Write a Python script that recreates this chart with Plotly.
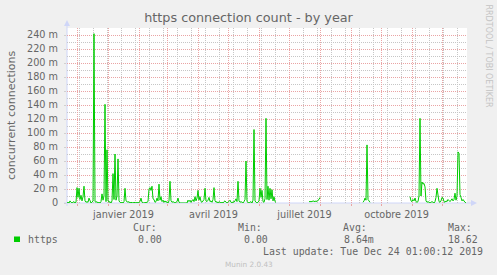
import pandas as pd
import plotly.graph_objects as go

# ---------------- data (daily averages, in milli-connections) ----------------
range_start = "2018-11-20 12:00"
range_end = "2019-12-25 12:00"

seg_a_start = "2018-11-20 12:00"
seg_a_vals = [
    0, 1, 0, 3, 1, 0, 1, 2, 0, 1,
    22, 8, 21, 5, 11, 3, 9, 24, 3, 1,
    2, 1, 7, 2, 0, 1, 3, 242, 2, 1,
    2, 0, 1, 0, 2, 13, 4, 10, 141, 2,
    76, 4, 1, 2, 0, 3, 42, 5, 70, 4,
    10, 63, 3, 1, 0, 1, 0, 2, 21, 3,
    2, 1, 2, 0, 1, 0, 0, 1, 0, 0,
    1, 0, 1, 2, 7, 1, 0, 0, 0, 0,
    1, 2, 20, 22, 18, 24, 6, 5, 1, 2,
    7, 3, 27, 4, 9, 2, 4, 1, 3, 1,
    2, 0, 3, 31, 3, 1, 2, 1, 0, 1,
    2, 7, 1, 0, 0, 0, 0, 0, 0, 1,
    0, 4, 2, 4, 1, 3, 5, 2, 9, 3,
    7, 18, 4, 9, 2, 1, 3, 5, 21, 3,
    2, 4, 8, 2, 3, 1, 5, 22, 3, 1,
    2, 0, 2, 1, 0, 1, 0, 2, 3, 1,
    0, 1, 2, 4, 1, 0, 2, 1, 3, 6,
    2, 31, 3, 1, 2, 1, 0, 2, 5, 60,
    2, 1, 0, 1, 2, 0, 4, 105, 3, 1,
    0, 1, 3, 21, 8, 18, 2, 1, 6, 121,
    5, 24, 4, 21, 6, 19, 3, 9, 2, 1,
]
seg_b_start = "2019-07-20 12:00"
seg_b_vals = [2, 2, 1, 2, 3, 2, 2, 3, 2, 4, 5, 8]
seg_c_start = "2019-09-12 12:00"
seg_c_vals = [1, 3, 7, 4, 83, 5, 3, 1]
seg_d_start = "2019-10-29 12:00"
seg_d_vals = [
    9, 3, 2, 5, 3, 7, 2, 1, 2, 10,
    121, 10, 30, 27, 28, 23, 3, 1, 2, 1,
    0, 1, 2, 1, 0, 2, 8, 21, 6, 2,
    1, 3, 8, 7, 2, 1, 3, 2, 5, 3,
    2, 4, 6, 3, 5, 14, 4, 10, 73, 71,
    12, 8, 3, 5, 2, 1, 0,
]

y_tick_vals = [0, 20, 40, 60, 80, 100, 120, 140, 160, 180, 200, 220, 240]
y_tick_text = ["0", "20 m", "40 m", "60 m", "80 m", "100 m", "120 m", "140 m",
               "160 m", "180 m", "200 m", "220 m", "240 m"]
y_minor_vals = [10, 30, 50, 70, 90, 110, 130, 150, 170, 190, 210, 230, 250]
month_starts = ["2018-12-01", "2019-01-01", "2019-02-01", "2019-03-01", "2019-04-01",
                "2019-05-01", "2019-06-01", "2019-07-01", "2019-08-01", "2019-09-01",
                "2019-10-01", "2019-11-01", "2019-12-01"]
month_text = ["", "janvier 2019", "", "", "avril 2019", "", "", "juillet 2019",
              "", "", "octobre 2019", "", ""]

title_text = "https connection count - by year"
y_title = "concurrent connections"
series_name = "https"
legend_headers = ["Cur:", "Min:", "Avg:", "Max:"]
legend_values = ["0.00", "0.00", "8.64m", "18.62"]
last_update = "Last update: Tue Dec 24 01:00:12 2019"
watermark = "RRDTOOL / TOBI OETIKER"
footer = "Munin 2.0.43"

# ---------------- styling ----------------
W, H = 497, 275
L, R, T, B = 67, 30, 28, 72
PW, PH = W - L - R, H - T - B
FONT = "DejaVu Sans"
MONO = "DejaVu Sans Mono"
TXT = "#666666"
GREEN = "#00cc00"
GRID = "#c6c6c6"
MGRID = "#eaa4a4"
AXIS = "#cfd6f8"
DOT = "1px,1px"


def px(x):
    return (x - L) / PW


def py(y):
    return (H - B - y) / PH


xs, ys = [], []
for start, vals in [(seg_a_start, seg_a_vals), (seg_b_start, seg_b_vals),
                    (seg_c_start, seg_c_vals), (seg_d_start, seg_d_vals)]:
    dates = pd.date_range(start, periods=len(vals), freq="D")
    xs.extend(list(dates))
    ys.extend(vals)
    xs.append(None)
    ys.append(None)

fig = go.Figure()
fig.add_trace(go.Scatter(x=xs, y=ys, mode="lines", name=series_name,
                         line=dict(color=GREEN, width=1), connectgaps=False,
                         hoverinfo="skip"))

fig.update_layout(
    width=W, height=H,
    margin=dict(l=L, r=R, t=T, b=B, pad=0, autoexpand=False),
    paper_bgcolor="#f0f0f0", plot_bgcolor="#ffffff",
    showlegend=False,
    title=dict(text=title_text, x=0.5, xref="container", xanchor="center",
               y=1 - 18 / H, yref="container", yanchor="middle",
               font=dict(family=FONT, size=12.8, color=TXT)),
    xaxis=dict(type="date", range=[range_start, range_end], automargin=False,
               tickmode="array", tickvals=month_starts, ticktext=month_text,
               ticklabelshift=15, ticklabelstandoff=0,
               tickfont=dict(family=FONT, size=9.7, color=TXT),
               showgrid=True, gridcolor=MGRID, griddash=DOT, gridwidth=1,
               ticks="outside", ticklen=2, tickcolor=MGRID,
               showline=False, zeroline=False,
               minor=dict(tick0="2018-12-03", dtick=14 * 86400000, showgrid=True,
                          gridcolor=GRID, griddash=DOT, gridwidth=1, ticks="")),
    yaxis=dict(range=[0, 250.1], tickmode="array", tickvals=y_tick_vals,
               ticktext=y_tick_text, showgrid=True, gridcolor=MGRID,
               griddash=DOT, gridwidth=1, zeroline=False, showline=False,
               automargin=False, ticks="outside", ticklen=2, tickcolor="#d0d0d0",
               ticklabelstandoff=4,
               tickfont=dict(family=FONT, size=9.7, color=TXT),
               minor=dict(tickmode="array", tickvals=y_minor_vals, showgrid=True,
                          gridcolor=GRID, griddash=DOT, gridwidth=1, ticks="")),
)

shapes = [
    dict(type="line", xref="paper", yref="paper", x0=px(67), x1=px(67),
         y0=py(206), y1=py(25), line=dict(color=AXIS, width=1), layer="between"),
    dict(type="path", xref="paper", yref="paper",
         path=f"M {px(67)} {py(20)} L {px(64)} {py(26)} L {px(70)} {py(26)} Z",
         fillcolor=AXIS, line=dict(color=AXIS, width=0)),
    dict(type="line", xref="paper", yref="paper", x0=px(64), x1=px(472),
         y0=py(203), y1=py(203), line=dict(color=AXIS, width=1), layer="between"),
    dict(type="path", xref="paper", yref="paper",
         path=f"M {px(477)} {py(203)} L {px(471)} {py(200)} L {px(471)} {py(206)} Z",
         fillcolor=AXIS, line=dict(color=AXIS, width=0)),
    dict(type="rect", xref="paper", yref="paper", x0=px(14), x1=px(20),
         y0=py(242), y1=py(236.5), fillcolor=GREEN, line=dict(width=0)),
]
fig.update_layout(shapes=shapes)

ann = []


def text(x, y, s, size, color=TXT, family=MONO, xanchor="left", angle=0):
    ann.append(dict(x=px(x), y=py(y), xref="paper", yref="paper", text=s,
                    showarrow=False, xanchor=xanchor, yanchor="middle",
                    textangle=angle, borderpad=0,
                    font=dict(family=family, size=size, color=color)))


text(11, 115, y_title, 11, family=FONT, xanchor="center", angle=-90)
text(488.5, 56, watermark, 8, color="#c4c4c4", family=FONT, xanchor="center", angle=90)
for hx, h in zip([131.7, 236.7, 342.3, 446.7], legend_headers):
    text(hx, 227.7, h, 9.9)
text(26.7, 239.5, series_name, 9.9)
for vx, v in zip([137.3, 243.3, 343.3, 446.7], legend_values):
    text(vx, 239.5, v, 9.9)
text(261.7, 251.7, last_update, 9.9)
text(249, 264.5, footer, 7.3, color="#c0c0c0", family=FONT, xanchor="center")
fig.update_layout(annotations=ann)

fig.write_html("out.html")
